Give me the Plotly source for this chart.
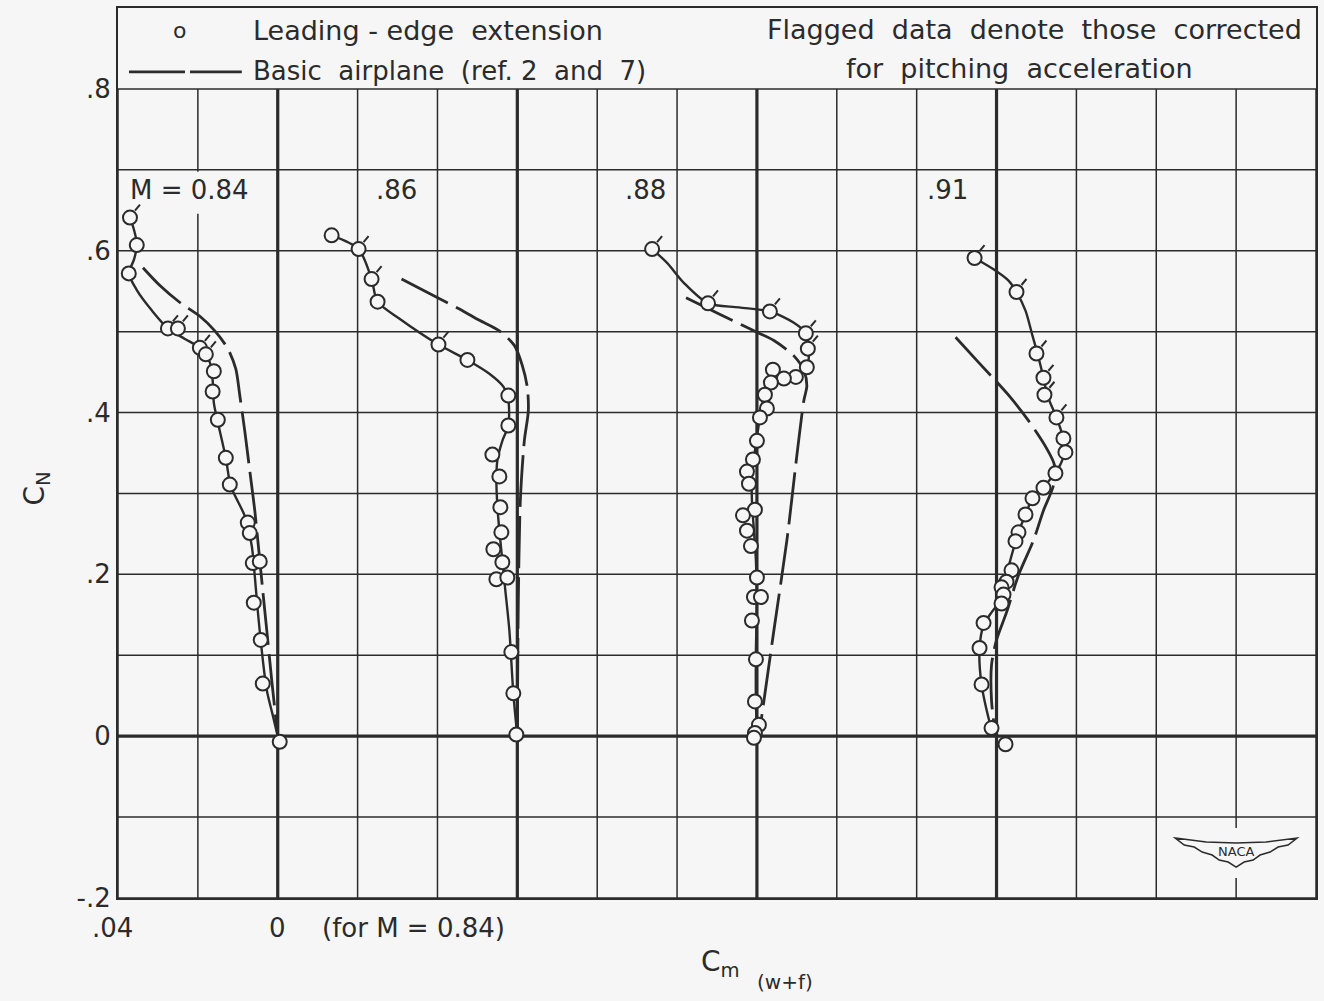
import plotly.graph_objects as go

BG = "#f6f6f6"
INK = "#2b2b2b"
FONT = "DejaVu Sans"
PANEL_SHIFT = 0.06  # each Mach panel is shifted by 0.06 in Cm

mach_labels = ["M = 0.84", ".86", ".88", ".91"]

# ---------------- M = 0.84 ----------------
lee_cm_084 = [0.037, 0.0353, 0.0373, 0.0275, 0.025, 0.0195, 0.018, 0.016, 0.0163, 0.015, 0.013, 0.012,
              0.0075, 0.007, 0.00625, 0.0045, 0.006, 0.00425, 0.00375, -0.0005]
lee_cn_084 = [0.641, 0.607, 0.572, 0.504, 0.504, 0.480, 0.472, 0.451, 0.426, 0.391, 0.344, 0.311,
              0.264, 0.251, 0.214, 0.216, 0.165, 0.119, 0.065, -0.007]
lee_flag_084 = [1, 0, 0, 1, 1, 1, 1, 0, 0, 0, 0, 0, 0, 0, 0, 0, 0, 0, 0, 0]
fair_cm_084 = [0.037, 0.036, 0.03525, 0.036, 0.03725, 0.03525, 0.0315, 0.0275, 0.02325, 0.0195, 0.017,
               0.01625, 0.016, 0.015, 0.013, 0.01175, 0.00825, 0.0065, 0.00575, 0.005, 0.004, 0.00275,
               0.00125, 0.0]
fair_cn_084 = [0.641, 0.626, 0.607, 0.589, 0.572, 0.551, 0.526, 0.504, 0.491, 0.480, 0.462, 0.437, 0.412,
               0.388, 0.344, 0.309, 0.272, 0.235, 0.198, 0.155, 0.106, 0.057, 0.026, 0.0]
basic_cm_084 = [0.03375, 0.0295, 0.0245, 0.0195, 0.01575, 0.0125, 0.0105, 0.0095, 0.00825, 0.007,
                0.00575, 0.00475, 0.00375, 0.00275, 0.0015, 0.0]
basic_cn_084 = [0.579, 0.557, 0.536, 0.519, 0.501, 0.479, 0.454, 0.421, 0.377, 0.328, 0.279, 0.230,
                0.180, 0.131, 0.069, 0.0]

# ---------------- M = 0.86 ----------------
lee_cm_086 = [0.0465, 0.03975, 0.0365, 0.035, 0.01975, 0.0125, 0.00225, 0.00225, 0.00625, 0.0045,
              0.00425, 0.004, 0.006, 0.00375, 0.00525, 0.0025, 0.0015, 0.001, 0.00025]
lee_cn_086 = [0.619, 0.602, 0.565, 0.537, 0.484, 0.465, 0.421, 0.384, 0.348, 0.321, 0.283, 0.252,
              0.231, 0.215, 0.194, 0.196, 0.104, 0.053, 0.002]
lee_flag_086 = [0, 1, 1, 0, 1, 0, 0, 0, 0, 0, 0, 0, 0, 0, 0, 0, 0, 0, 0]
fair_cm_086 = [0.0465, 0.03975, 0.0365, 0.035, 0.0295, 0.01975, 0.0125, 0.007, 0.0035, 0.00225, 0.00225,
               0.00375, 0.005, 0.00525, 0.005, 0.0045, 0.00375, 0.003, 0.002, 0.001, 0.0]
fair_cn_086 = [0.619, 0.602, 0.565, 0.537, 0.516, 0.484, 0.465, 0.448, 0.432, 0.415, 0.384, 0.365, 0.341,
               0.316, 0.285, 0.254, 0.217, 0.180, 0.131, 0.053, 0.0]
basic_cm_086 = [0.029, 0.022, 0.0145, 0.0095, 0.0045, 0.00075, -0.00125, -0.0025, -0.00275, -0.00175,
                -0.00075, -0.00025, 0.0]
basic_cn_086 = [0.565, 0.547, 0.528, 0.514, 0.501, 0.483, 0.458, 0.431, 0.402, 0.365, 0.291, 0.168, 0.0]

# ---------------- M = 0.88 ----------------
lee_cm_088 = [0.02625, 0.01225, -0.00325, -0.01225, -0.01275, -0.0125, -0.00975, -0.00675, -0.004,
              -0.0035, -0.002, -0.0025, -0.00075, 0.0, 0.001, 0.0025, 0.002, 0.0005, 0.0035, 0.0025,
              0.0015, 0.0, 0.00075, -0.001, 0.00125, 0.00025, 0.0005, -0.0005, 0.0005, 0.00075]
lee_cn_088 = [0.602, 0.535, 0.525, 0.498, 0.479, 0.456, 0.444, 0.442, 0.453, 0.437, 0.422, 0.405, 0.394,
              0.365, 0.342, 0.327, 0.312, 0.280, 0.273, 0.254, 0.235, 0.196, 0.172, 0.172, 0.143, 0.095,
              0.043, 0.014, 0.004, -0.002]
lee_flag_088 = [1, 1, 1, 1, 1, 0, 0, 0, 0, 0, 0, 0, 0, 0, 0, 0, 0, 0, 0, 0, 0, 0, 0, 0, 0, 0, 0, 0, 0, 0]
fair_cm_088 = [0.02625, 0.0225, 0.01825, 0.01225, 0.0045, -0.00325, -0.00925, -0.01225, -0.013, -0.0125,
               -0.00975, -0.00675, -0.0035, -0.002, -0.001, -0.00025, 0.0005, 0.00125, 0.00125, 0.00075,
               0.00025, 0.0, 0.00025, 0.00025, 0.0]
fair_cn_088 = [0.602, 0.585, 0.560, 0.535, 0.530, 0.525, 0.511, 0.498, 0.477, 0.456, 0.444, 0.441, 0.433,
               0.422, 0.402, 0.378, 0.353, 0.322, 0.291, 0.254, 0.217, 0.168, 0.106, 0.044, 0.0]
basic_cm_088 = [0.01775, 0.012, 0.007, 0.00075, -0.00425, -0.00925, -0.01175, -0.0125, -0.01175, -0.01,
                -0.0075, -0.00425, -0.0005]
basic_cn_088 = [0.542, 0.528, 0.516, 0.501, 0.489, 0.470, 0.452, 0.433, 0.415, 0.347, 0.242, 0.131, 0.0]

# ---------------- M = 0.91 ----------------
lee_cm_091 = [0.0055, -0.005, -0.01, -0.01175, -0.012, -0.015, -0.01675, -0.01725, -0.01475, -0.01175,
              -0.009, -0.00725, -0.0055, -0.00475, -0.00375, -0.0025, -0.00125, -0.00175, -0.00125,
              0.00325, 0.00425, 0.00375, 0.00125, -0.00225]
lee_cn_091 = [0.591, 0.549, 0.473, 0.443, 0.422, 0.394, 0.368, 0.351, 0.325, 0.307, 0.294, 0.274, 0.252,
              0.241, 0.205, 0.191, 0.184, 0.175, 0.164, 0.140, 0.109, 0.064, 0.010, -0.010]
lee_flag_091 = [1, 1, 1, 1, 1, 1, 0, 0, 0, 0, 0, 0, 0, 0, 0, 0, 0, 0, 0, 0, 0, 0, 0, 0]
fair_cm_091 = [0.0055, 0.00075, -0.003, -0.005, -0.00725, -0.009, -0.01025, -0.01175, -0.01275, -0.015,
               -0.0165, -0.017, -0.0155, -0.0125, -0.009, -0.00725, -0.0055, -0.00375, -0.0025, -0.00125,
               0.00125, 0.00325, 0.00425, 0.00375, 0.00125, 0.0]
fair_cn_091 = [0.591, 0.577, 0.563, 0.549, 0.526, 0.495, 0.473, 0.443, 0.421, 0.394, 0.372, 0.351, 0.331,
               0.312, 0.294, 0.274, 0.252, 0.223, 0.199, 0.170, 0.153, 0.137, 0.109, 0.064, 0.010, 0.0]
basic_cm_091 = [0.01025, 0.0045, -0.00275, -0.008, -0.0125, -0.0145, -0.01425, -0.01175, -0.00925,
                -0.0055, -0.0025, 0.0, 0.00125, 0.00125, 0.00025]
basic_cn_091 = [0.493, 0.462, 0.423, 0.390, 0.356, 0.335, 0.310, 0.279, 0.242, 0.199, 0.153, 0.119,
                0.088, 0.044, 0.0]

panels = [
    (lee_cm_084, lee_cn_084, lee_flag_084, fair_cm_084, fair_cn_084, basic_cm_084, basic_cn_084),
    (lee_cm_086, lee_cn_086, lee_flag_086, fair_cm_086, fair_cn_086, basic_cm_086, basic_cn_086),
    (lee_cm_088, lee_cn_088, lee_flag_088, fair_cm_088, fair_cn_088, basic_cm_088, basic_cn_088),
    (lee_cm_091, lee_cn_091, lee_flag_091, fair_cm_091, fair_cn_091, basic_cm_091, basic_cn_091),
]

# axis geometry (plot area in pixels: x 118..1318, y 7..898)
X0, X1 = 0.04, -0.26
Y0, Y1 = -0.2, 0.9
L, T, W, H = 118, 7, 1200, 891
PXX = (X0 - X1) / W   # data units per pixel (x)
PXY = (Y1 - Y0) / H   # data units per pixel (y)


def px(xp):
    return (xp - L) / W


def py(yp):
    return (T + H - yp) / H


def dx(xp):
    return X0 - (xp - L) * PXX


def dy(yp):
    return Y0 + (T + H - yp) * PXY


fig = go.Figure()

for i, (lcm, lcn, lfl, fcm, fcn, bcm, bcn) in enumerate(panels):
    sh = i * PANEL_SHIFT
    fig.add_trace(go.Scatter(x=[c - sh for c in bcm], y=bcn, mode="lines",
                             line=dict(color=INK, width=2.8, dash="52px,9px", shape="spline", smoothing=0.8),
                             hoverinfo="skip", showlegend=False))
    fig.add_trace(go.Scatter(x=[c - sh for c in fcm], y=fcn, mode="lines",
                             line=dict(color=INK, width=2.4, shape="spline", smoothing=0.8),
                             hoverinfo="skip", showlegend=False))
    fig.add_trace(go.Scatter(x=[c - sh for c in lcm], y=lcn, mode="markers",
                             marker=dict(symbol="circle", size=14, color=BG,
                                         line=dict(color=INK, width=2)),
                             showlegend=False))
    fx, fy = [], []
    for c, n, f in zip(lcm, lcn, lfl):
        if f:
            xc = c - sh
            fx += [xc - 5 * PXX, xc - 10 * PXX, None]
            fy += [n + 7 * PXY, n + 13 * PXY, None]
    fig.add_trace(go.Scatter(x=fx, y=fy, mode="lines", line=dict(color=INK, width=2),
                             hoverinfo="skip", showlegend=False))

shapes = []
# vertical grid lines every 0.02
for k in range(16):
    xv = X0 - 0.02 * k
    heavy = k in (2, 5, 8, 11)
    shapes.append(dict(type="line", xref="x", yref="y", x0=xv, x1=xv, y0=-0.2, y1=0.8,
                       line=dict(color=INK, width=3.2 if heavy else 1.5), layer="below"))
# horizontal grid lines every 0.1
for k in range(11):
    yv = -0.2 + 0.1 * k
    shapes.append(dict(type="line", xref="x", yref="y", x0=X0, x1=X1, y0=yv, y1=yv,
                       line=dict(color=INK, width=3.2 if abs(yv) < 1e-9 else 1.5), layer="below"))
# blank areas behind the Mach labels (grid interrupted below the 0.7 line)
for (a, b) in [(121, 262), (370, 424), (620, 674), (922, 972)]:
    shapes.append(dict(type="rect", xref="x", yref="y", x0=dx(a), x1=dx(b), y0=dy(213), y1=dy(171),
                       fillcolor=BG, line=dict(width=0), layer="below"))
# NACA logo background & wing outline
shapes.append(dict(type="rect", xref="x", yref="y", x0=dx(1206), x1=dx(1270), y0=dy(878), y1=dy(828),
                   fillcolor=BG, line=dict(width=0), layer="below"))
wing = [(1177, 838), (1208, 842), (1238, 843), (1268, 842), (1299, 838), (1290, 845), (1280, 847),
        (1272, 852), (1262, 855), (1255, 860), (1246, 862), (1238, 867), (1230, 862), (1221, 860),
        (1214, 855), (1204, 852), (1196, 847), (1186, 845)]
path = "M " + " L ".join(f"{px(a):.5f},{py(b):.5f}" for a, b in wing) + " Z"
shapes.append(dict(type="path", xref="paper", yref="paper", path=path,
                   line=dict(color=INK, width=1.5), fillcolor=BG, layer="above"))
# legend dashed sample
shapes.append(dict(type="line", xref="paper", yref="paper", x0=px(129), x1=px(242), y0=py(71), y1=py(71),
                   line=dict(color=INK, width=2.8, dash="56px,5px")))

ann = []
f26 = dict(family=FONT, size=26, color=INK)


def add_text(text, x, y, xanchor="left", font=f26, **kw):
    d = dict(text=text, xref="paper", yref="paper", x=px(x), y=py(y), xanchor=xanchor, yanchor="middle",
             showarrow=False, font=font)
    d.update(kw)
    ann.append(d)


add_text("o", 180, 30, xanchor="center", font=dict(family=FONT, size=22, color=INK))
add_text("Leading - edge  extension", 251, 30, font=dict(family=FONT, size=27, color=INK))
add_text("Basic  airplane  (ref. 2  and  7)", 251, 70, font=dict(family=FONT, size=26, color=INK))
add_text("Flagged  data  denote  those  corrected", 1306, 29, xanchor="right",
         font=dict(family=FONT, size=27, color=INK))
add_text("for  pitching  acceleration", 1021, 68, xanchor="center", font=dict(family=FONT, size=27, color=INK))

label_x = [128, 374, 624, 926]
for lab, lx in zip(mach_labels, label_x):
    add_text(lab, lx, 189, font=f26)

add_text(".04", 112, 928, xanchor="center")
add_text("0", 278, 928, xanchor="center")
add_text("(for M = 0.84)", 320, 928)
add_text("C<sub>N</sub>", 36, 488, xanchor="center", font=dict(family=FONT, size=28, color=INK), textangle=-90)
add_text("C<sub>m</sub>", 722, 964, xanchor="center", font=dict(family=FONT, size=28, color=INK))
add_text("(w+f)", 786, 982, xanchor="center", font=dict(family=FONT, size=20, color=INK))
add_text("NACA", 1238, 851, xanchor="center", font=dict(family=FONT, size=13, color=INK))

fig.update_layout(
    width=1324, height=1001,
    margin=dict(l=L, r=1324 - L - W, t=T, b=1001 - T - H),
    paper_bgcolor=BG, plot_bgcolor=BG,
    shapes=shapes, annotations=ann,
    showlegend=False,
    xaxis=dict(range=[X0, X1], showgrid=False, zeroline=False, showticklabels=False, ticks="",
               showline=True, mirror=True, linecolor=INK, linewidth=2),
    yaxis=dict(range=[Y0, Y1], showgrid=False, zeroline=False, tickvals=[-0.2, 0, 0.2, 0.4, 0.6, 0.8],
               ticktext=["-.2", "0", ".2", ".4", ".6", ".8"], tickfont=f26, ticks="",
               showline=True, mirror=True, linecolor=INK, linewidth=2),
)

fig.write_html("out.html", config={"displayModeBar": False},
               post_script="document.body.style.margin='0px';document.body.style.background='%s';" % BG)
